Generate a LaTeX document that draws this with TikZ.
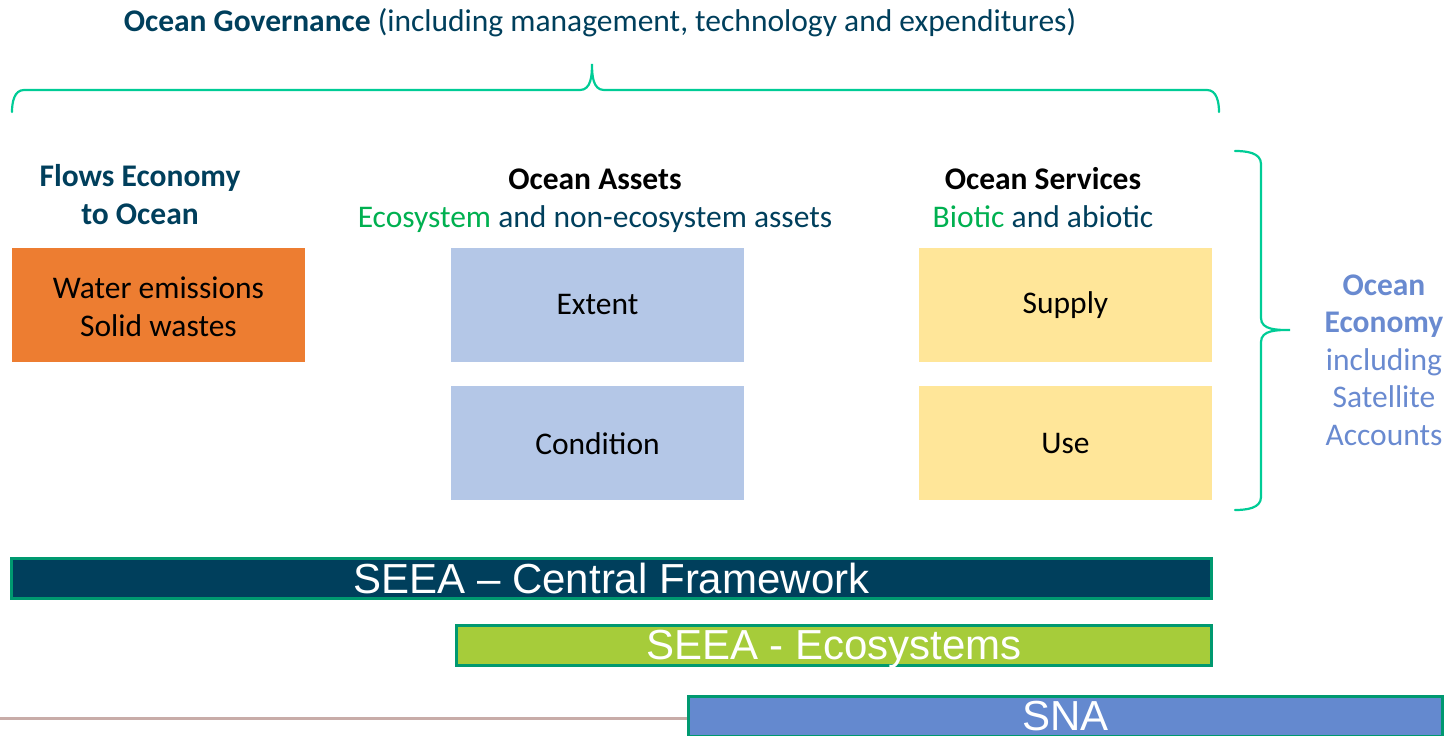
\documentclass[tikz,border=0pt]{standalone}
\usepackage{fontspec}
\setmainfont{Carlito}
\newfontfamily\barfont{Liberation Sans}
\usepackage{xcolor}
\usetikzlibrary{positioning}
\definecolor{deepteal}{RGB}{0,63,92}
\definecolor{leafgreen}{RGB}{0,176,80}
\definecolor{bracegreen}{RGB}{0,204,150}
\definecolor{edgegreen}{RGB}{0,153,112}
\definecolor{flowsorange}{RGB}{237,125,49}
\definecolor{assetsblue}{RGB}{180,199,231}
\definecolor{servicesyellow}{RGB}{255,230,153}
\definecolor{econblue}{RGB}{105,138,208}
\definecolor{seeagreen}{RGB}{166,204,58}
\definecolor{snablue}{RGB}{100,137,207}
\definecolor{rulebrown}{RGB}{200,172,168}
\tikzset{
 every node/.style={font=\fontsize{31.5}{38}\selectfont,align=center,inner sep=0pt},
 account/.style={rectangle,minimum width=293pt,minimum height=114pt},
 flowsbox/.style={account,fill=flowsorange},
 assetsbox/.style={account,fill=assetsblue},
 servicesbox/.style={account,fill=servicesyellow},
 layer/.style={rectangle,draw=edgegreen,line width=3pt,minimum height=40pt,
   text depth=0pt,text=white,font=\barfont\fontsize{42}{42}\selectfont},
 brace/.style={bracegreen,line width=2.2pt,line cap=round}
}
\begin{document}
\begin{tikzpicture}[x=1pt,y=-1pt,node distance=24pt]
  \useasboundingbox (0,0) rectangle (1449,736);
  % decoration line under the left side
  \draw[line width=3pt,color=rulebrown] (0,718) -- (687,718);
  % governance heading and brace
  \node[text=deepteal] (gov) at (600,23)
    {\textbf{Ocean Governance} (including management, technology and expenditures)};
  \draw[brace] (12,112) to[out=90,in=180] (24,90) -- (580,90)
    to[out=0,in=-90] (592,64) to[out=-90,in=180] (604,90) -- (1207,90)
    to[out=0,in=90] (1219,112);
  % column headings
  \node[text=deepteal,font=\bfseries\fontsize{31.5}{38}\selectfont] (flowshead) at (140,195)
    {Flows Economy\\to Ocean};
  \node (assetshead) at (595,200.5)
    {\textbf{Ocean Assets}\\\textcolor{leafgreen}{Ecosystem} \textcolor{deepteal}{and non-ecosystem assets}};
  \node (serviceshead) at (1043,198)
    {\textbf{Ocean Services}\\\textcolor{leafgreen}{Biotic} \textcolor{deepteal}{and abiotic}};
  % account boxes
  \node[flowsbox] (flows) at (158.5,305) {};
  \node (flowstext) at (158.5,307) {Water emissions\\Solid wastes};
  \node[assetsbox] (extent) at (597.5,305) {Extent};
  \node[assetsbox,below=of extent] (condition) {Condition};
  \node[servicesbox] (supply) at (1065.5,305) {Supply};
  \node[servicesbox,below=of supply] (use) {Use};
  % ocean economy brace
  \draw[brace] (1235,151) to[out=0,in=90] (1261,164) -- (1261,318)
    to[out=-90,in=180] (1290,330) to[out=180,in=90] (1261,342) -- (1261,497)
    to[out=-90,in=0] (1235,510);
  \node[text=econblue,font=\fontsize{31.5}{37.5}\selectfont] (economy) at (1384,360)
    {\textbf{Ocean}\\\textbf{Economy}\\including\\Satellite\\Accounts};
  % accounting frameworks
  \node[layer,fill=deepteal,minimum width=1200pt] (central) at (611.5,578)
    {SEEA – Central Framework};
  \node[layer,fill=seeagreen,minimum width=755pt] (ecosystems) at (834,645)
    {SEEA - Ecosystems};
  \node[layer,fill=snablue,minimum width=754pt] (sna) at (1065.5,716) {SNA};
\end{tikzpicture}
\end{document}
